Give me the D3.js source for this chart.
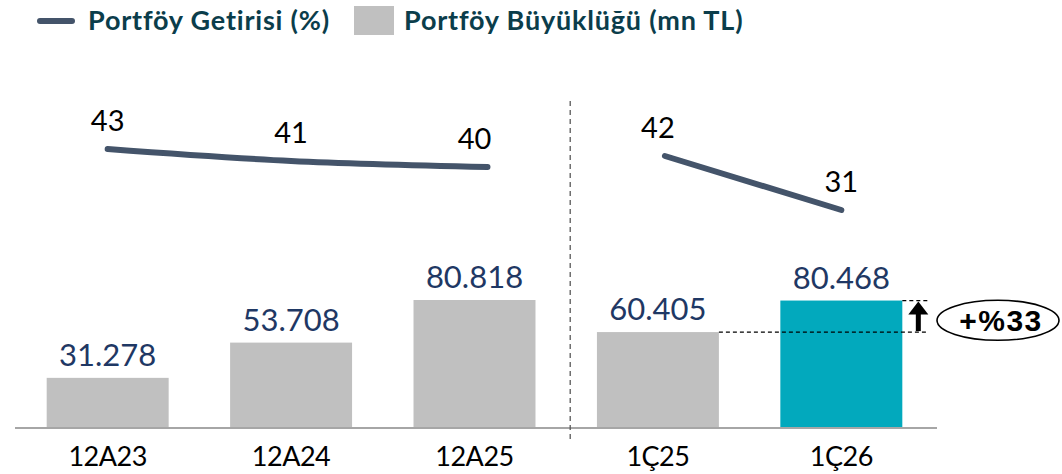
<!DOCTYPE html>
<html>
<head>
<meta charset="utf-8">
<script src="https://cdn.jsdelivr.net/npm/d3@7"></script>
<style>
  body { margin: 0; background: #fff; }
  svg { display: block; }
</style>
</head>
<body>
<svg width="1062" height="474"></svg>
<script>
// Data
const categories = ["12A23", "12A24", "12A25", "1Ç25", "1Ç26"];
const sizeValues = [31278, 53708, 80818, 60405, 80468];
const sizeLabels = ["31.278", "53.708", "80.818", "60.405", "80.468"];
const returnValues = [43, 41, 40, 42, 31];
const groups = [[0, 1, 2], [3, 4]];
const growthLabel = "+%33";

const svg = d3.select("svg");
const baseY = 427;

// Scales
const x = d3.scaleBand()
    .domain(categories)
    .range([10, 939])
    .paddingInner(0.335)
    .paddingOuter(0.2);

const y = d3.scaleLinear()
    .domain([0, 80818])
    .range([baseY, 300]);

// each panel has its own return scale
const yRet = [
    d3.scaleLinear().domain([40, 43]).range([167, 149]),
    d3.scaleLinear().domain([31, 42]).range([210, 156])
];

const barColor = (d, i) => i === 4 ? "#02a9bd" : "#c0c0c0";

// Bars
svg.selectAll(".bar")
    .data(sizeValues)
    .enter().append("rect")
    .attr("class", "bar")
    .attr("x", (d, i) => x(categories[i]))
    .attr("y", d => y(d))
    .attr("width", x.bandwidth())
    .attr("height", d => baseY - y(d))
    .attr("fill", barColor);

// Bar labels
svg.selectAll(".bar-label")
    .data(sizeLabels)
    .enter().append("text")
    .attr("x", (d, i) => x(categories[i]) + x.bandwidth() / 2)
    .attr("y", (d, i) => y(sizeValues[i]) - 12)
    .attr("text-anchor", "middle")
    .attr("font-family", "Lato, sans-serif")
    .attr("font-size", 31)
    .attr("fill", "#1f3864")
    .text(d => d);

// X axis
svg.append("line")
    .attr("x1", 15).attr("x2", 937)
    .attr("y1", baseY + 1).attr("y2", baseY + 1)
    .attr("stroke", "#a6a6a6")
    .attr("stroke-width", 2);

svg.selectAll(".cat")
    .data(categories)
    .enter().append("text")
    .attr("x", d => x(d) + x.bandwidth() / 2)
    .attr("y", 466)
    .attr("text-anchor", "middle")
    .attr("font-family", "Lato, sans-serif")
    .attr("font-size", 27)
    .attr("letter-spacing", -0.5)
    .attr("fill", "#000")
    .text(d => d);

// Separator
const sepX = (x("12A25") + x.bandwidth() + x("1Ç25")) / 2 + 4;
svg.append("line")
    .attr("x1", sepX).attr("x2", sepX)
    .attr("y1", 101).attr("y2", 441)
    .attr("stroke", "#595959")
    .attr("stroke-width", 1.3)
    .attr("stroke-dasharray", "5,4");

// Return lines
const cx = i => x(categories[i]) + x.bandwidth() / 2;
const lineX = i => cx(i) + (i === 2 ? 13 : 0) + (i === 3 ? 7 : 0);
groups.forEach((g, gi) => {
    const line = d3.line()
        .x(i => lineX(i))
        .y(i => yRet[gi](returnValues[i]))
        .curve(d3.curveMonotoneX);
    svg.append("path")
        .attr("d", line(g))
        .attr("fill", "none")
        .attr("stroke", "#44546a")
        .attr("stroke-width", 6)
        .attr("stroke-linecap", "round");
    svg.selectAll(".ret" + gi)
        .data(g)
        .enter().append("text")
        .attr("x", i => cx(i))
        .attr("y", i => yRet[gi](returnValues[i]) - 18)
        .attr("text-anchor", "middle")
        .attr("font-family", "Lato, sans-serif")
        .attr("font-size", 29)
        .attr("fill", "#000")
        .text(i => returnValues[i]);
});

// Growth annotation
const topY = y(sizeValues[4]);
const prevY = y(sizeValues[3]);
const right = x("1Ç26") + x.bandwidth();
svg.append("line")
    .attr("x1", x("1Ç25") + x.bandwidth()).attr("x2", right + 26)
    .attr("y1", prevY).attr("y2", prevY)
    .attr("stroke", "#000").attr("stroke-width", 1.2)
    .attr("stroke-dasharray", "4,3");
svg.append("line")
    .attr("x1", right).attr("x2", right + 26)
    .attr("y1", topY).attr("y2", topY)
    .attr("stroke", "#000").attr("stroke-width", 1.2)
    .attr("stroke-dasharray", "4,3");
const ax = right + 16;
svg.append("line")
    .attr("x1", ax).attr("x2", ax)
    .attr("y1", prevY - 1).attr("y2", topY + 12)
    .attr("stroke", "#000").attr("stroke-width", 5);
svg.append("path")
    .attr("d", `M${ax - 10},${topY + 14} L${ax},${topY + 1} L${ax + 10},${topY + 14} Z`)
    .attr("fill", "#000");

const ecy = (topY + prevY) / 2 + 4;
svg.append("ellipse")
    .attr("cx", 998).attr("cy", ecy)
    .attr("rx", 61).attr("ry", 20)
    .attr("fill", "#fff")
    .attr("stroke", "#000")
    .attr("stroke-width", 1.6);
svg.append("text")
    .attr("x", 1001).attr("y", ecy + 11)
    .attr("text-anchor", "middle")
    .attr("font-family", "Liberation Sans, Arial, sans-serif")
    .attr("font-weight", "bold")
    .attr("font-size", 30)
    .attr("letter-spacing", 1.5)
    .attr("fill", "#000")
    .text(growthLabel);

// Legend
const legend = svg.append("g");
legend.append("line")
    .attr("x1", 40).attr("x2", 72)
    .attr("y1", 21).attr("y2", 21)
    .attr("stroke", "#44546a")
    .attr("stroke-width", 6)
    .attr("stroke-linecap", "round");
legend.append("text")
    .attr("x", 88).attr("y", 30)
    .attr("font-family", "Lato, sans-serif")
    .attr("font-weight", "bold")
    .attr("font-size", 27)
    .attr("letter-spacing", 0.8)
    .attr("fill", "#0b3d4b")
    .text("Portföy Getirisi (%)");
legend.append("rect")
    .attr("x", 354).attr("y", 6)
    .attr("width", 40).attr("height", 29)
    .attr("fill", "#c0c0c0");
legend.append("text")
    .attr("x", 404).attr("y", 30)
    .attr("font-family", "Lato, sans-serif")
    .attr("font-weight", "bold")
    .attr("font-size", 27)
    .attr("letter-spacing", 0.8)
    .attr("fill", "#0b3d4b")
    .text("Portföy Büyüklüğü (mn TL)");
</script>
</body>
</html>
